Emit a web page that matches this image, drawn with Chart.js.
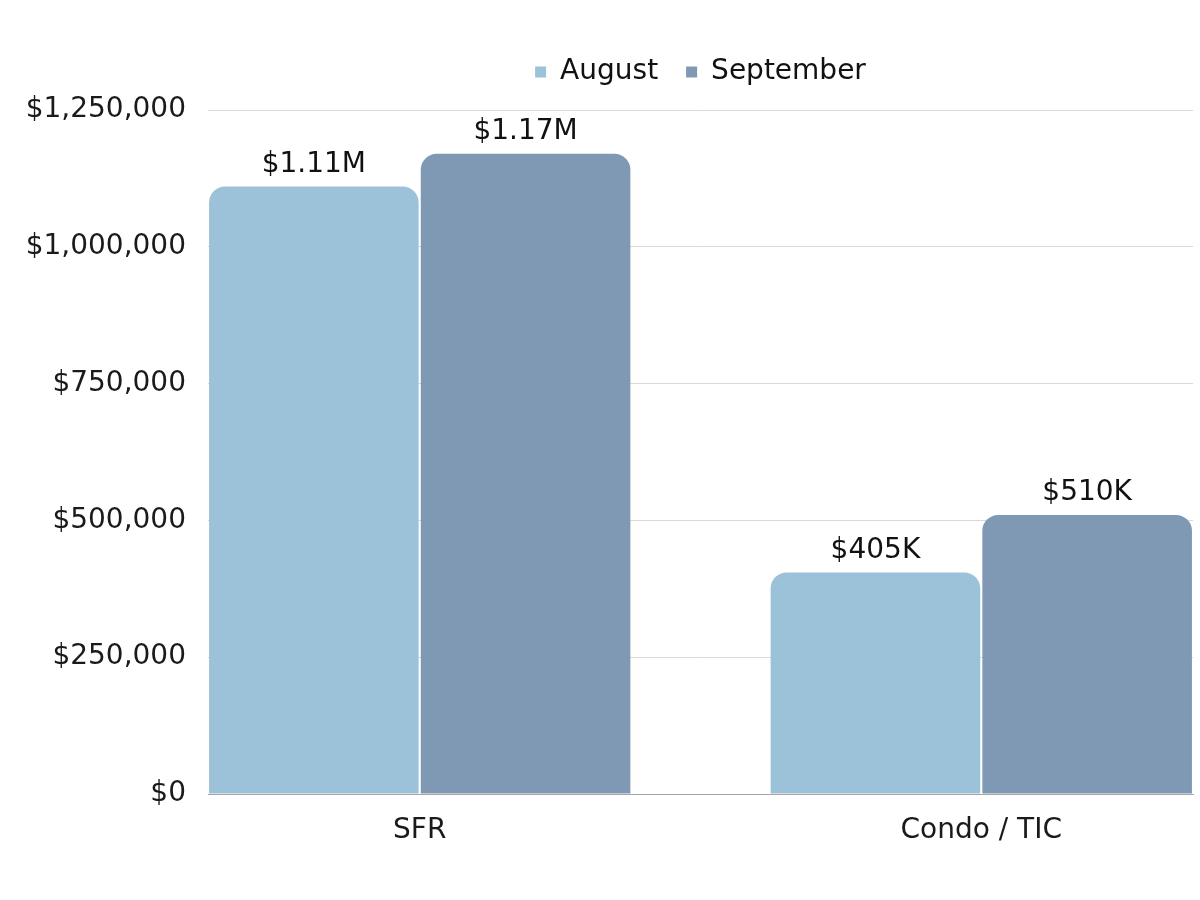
<!DOCTYPE html>
<html>
<head>
<meta charset="utf-8">
<script src="https://cdn.jsdelivr.net/npm/chart.js@4"></script>
<style>
  body { margin: 0; background: #fff; }
  #wrap { width: 1200px; height: 900px; }
</style>
</head>
<body>
<div id="wrap"><canvas id="price_chart"></canvas></div>
<script>
// median sale price by property type
var categories = ['SFR', 'Condo / TIC'];
var augustPrices = [1110000, 405000];
var septemberPrices = [1170000, 510000];
var augustLabels = ['$1.11M', '$405K'];
var septemberLabels = ['$1.17M', '$510K'];
var yTicks = [0, 250000, 500000, 750000, 1000000, 1250000];

var FONT = '"DejaVu Sans", "Open Sans", sans-serif';

// bars sit on a linear x axis so the groups can hug the edges of the plot like the original
function toPoints(values) {
    return values.map(function (v, i) { return { x: i, y: v }; });
}

// draws the value text above each bar
var barLabels = {
    id: 'barLabels',
    afterDatasetsDraw: function (chart) {
        var ctx = chart.ctx;
        ctx.save();
        ctx.font = '28px ' + FONT;
        ctx.fillStyle = '#111';
        ctx.textAlign = 'center';
        ctx.textBaseline = 'bottom';
        chart.data.datasets.forEach(function (ds, di) {
            chart.getDatasetMeta(di).data.forEach(function (bar, i) {
                ctx.fillText(ds.valueLabels[i], bar.x, bar.y - 8);
            });
        });
        ctx.restore();
    }
};

// leave extra room under the legend before the plot starts
var legendGap = {
    id: 'legendGap',
    beforeLayout: function (chart) {
        var lg = chart.legend;
        if (!lg || lg._gapWrapped) return;
        var fit = lg.fit;
        lg.fit = function () {
            fit.call(this);
            this.height += 14;
        };
        lg._gapWrapped = true;
    }
};

var ctx = document.getElementById('price_chart').getContext('2d');

var priceChart = new Chart(ctx, {
    type: 'bar',
    data: {
        datasets: [
            {
                label: 'August',
                data: toPoints(augustPrices),
                valueLabels: augustLabels,
                backgroundColor: '#9bc2d8',
                borderRadius: { topLeft: 16, topRight: 16 },
                borderSkipped: 'bottom'
            },
            {
                label: 'September',
                data: toPoints(septemberPrices),
                valueLabels: septemberLabels,
                backgroundColor: '#7f98b4',
                borderRadius: { topLeft: 16, topRight: 16 },
                borderSkipped: 'bottom'
            }
        ]
    },
    options: {
        responsive: true,
        maintainAspectRatio: false,
        animation: false,
        layout: { padding: { top: 30, right: 7, left: 0, bottom: 0 } },
        datasets: {
            bar: { categoryPercentage: 0.754, barPercentage: 0.99 }
        },
        plugins: {
            tooltip: { enabled: false },
            legend: {
                position: 'top',
                fullSize: false,
                labels: {
                    boxWidth: 11,
                    boxHeight: 11,
                    padding: 28,
                    color: '#111',
                    font: { family: FONT, size: 28 }
                }
            }
        },
        scales: {
            x: {
                type: 'linear',
                offset: false,
                min: -0.377,
                max: 1.377,
                grid: { display: false },
                border: { display: true, color: '#a6a6a6', width: 1 },
                afterBuildTicks: function (scale) {
                    scale.ticks = categories.map(function (c, i) { return { value: i }; });
                },
                afterFit: function (scale) { scale.height = 106; },
                ticks: {
                    padding: 12,
                    color: '#1a1a1a',
                    font: { family: FONT, size: 28 },
                    callback: function (value) { return categories[value]; }
                }
            },
            y: {
                min: 0,
                max: 1250000,
                border: { display: false },
                grid: { color: '#d9d9d9', tickLength: 0 },
                afterBuildTicks: function (scale) {
                    scale.ticks = yTicks.map(function (v) { return { value: v }; });
                },
                afterFit: function (scale) { scale.width = 208; },
                ticks: {
                    padding: 22,
                    color: '#1a1a1a',
                    font: { family: FONT, size: 28 },
                    callback: function (value) { return '$' + value.toLocaleString('en-US'); }
                }
            }
        }
    },
    plugins: [barLabels, legendGap]
});
</script>
</body>
</html>
